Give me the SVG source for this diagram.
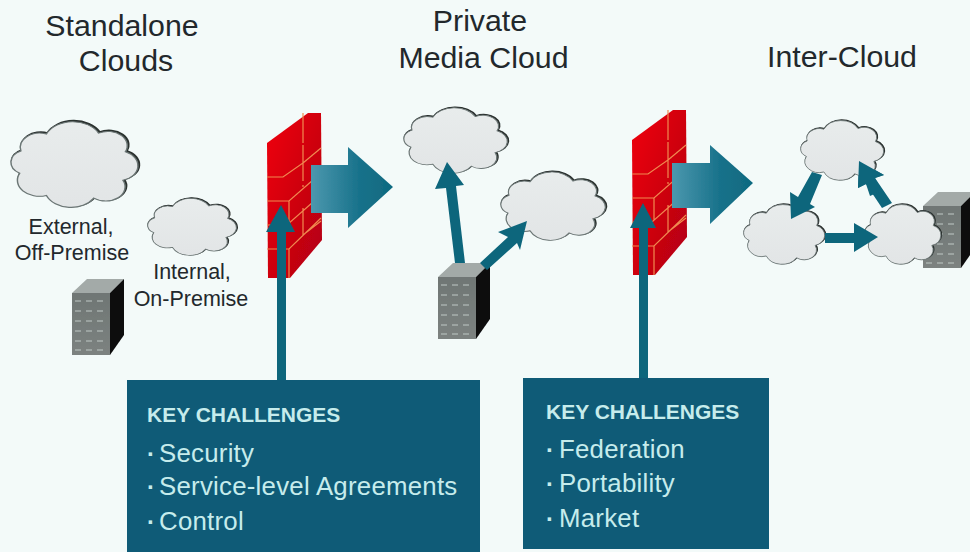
<svg xmlns="http://www.w3.org/2000/svg" width="970" height="552" viewBox="0 0 970 552">
<style>
.t{font-family:"Liberation Sans",Arial,sans-serif;fill:#22282c;text-anchor:middle}
.h{font-size:30.3px}
.s{font-size:21.5px}
.b{font-family:"Liberation Sans",Arial,sans-serif;fill:#c6ecec}
.k{font-size:21px;font-weight:bold}
.i{font-size:25.8px;letter-spacing:.25px}
.d{font-weight:bold;font-size:24px}
.box{fill:#0f5b77}
.cd{fill:#2a302f;stroke:#2a302f;stroke-width:2;vector-effect:non-scaling-stroke}
.cl{fill:url(#cg);stroke:#6c7776;stroke-width:1.2;vector-effect:non-scaling-stroke}
.ar{fill:#10667c}
.brick{fill:none;stroke:#f08a50;stroke-width:1.2}
.sl{stroke:#c0c9c6;stroke-width:1;stroke-dasharray:6 5}
.soft{filter:url(#soft)}
</style>
<defs>
<filter id="soft" x="-5%" y="-5%" width="110%" height="110%"><feGaussianBlur stdDeviation="0.6"/></filter>
<linearGradient id="cg" x1="0" y1="0" x2="0" y2="1"><stop offset="0" stop-color="#e8ecec"/><stop offset="1" stop-color="#e2e5e6"/></linearGradient>
<linearGradient id="wg" x1="0" y1="0" x2="1" y2="1"><stop offset="0" stop-color="#f0000a"/><stop offset="1" stop-color="#b00014"/></linearGradient>
<linearGradient id="ag" x1="0" y1="0" x2="1" y2="0"><stop offset="0" stop-color="#4c98ae"/><stop offset="0.6" stop-color="#17718a"/><stop offset="1" stop-color="#0f6a80"/></linearGradient>
<linearGradient id="fg" x1="0" y1="0" x2="0" y2="1"><stop offset="0" stop-color="#6f7674"/><stop offset="1" stop-color="#7c8280"/></linearGradient>
<path id="cp" d="M27 87 A18 18 0 0 1 5 62 A14 14 0 0 1 6 37 A16 16 0 0 1 27 18 A24 24 0 0 1 70 17 A16 16 0 0 1 92 38 A17 17 0 0 1 90 70 A16 16 0 0 1 66 90 A22 22 0 0 1 27 87 Z"/>
<g id="cloud">
<use href="#cp" class="cd" transform="translate(0.9,-1.1)"/>
<use href="#cp" class="cl"/>
</g>
<g id="srv">
<polygon points="0,14 15,0 52,0 38,14" fill="#a3aaa8"/>
<polygon points="38,14 52,0 52,56 38,76" fill="#0c0c0e"/>
<rect x="0" y="14" width="38" height="62" fill="url(#fg)"/>
<g class="sl"><path d="M3 22H35M3 32H35M3 42H35M3 52H35M3 62H35M3 71H35"/></g>
</g>
<g id="wall">
<polygon points="0,30 41,0 54,0 55,127 23,165 1,165" fill="url(#wg)"/>
<path class="brick" d="M0 64H16L36 50V32M36 50L54 35M36 68V50M0 88H22L54 60M36 74V72M22 88V110M0 112H20L54 82M36 95V122M0 136H22L54 105M22 136V165M36 122L54 108M36 0V30"/>
</g>
</defs>
<rect width="970" height="552" fill="#f3faf9"/>
<g id="title-standalone"><text class="t h" x="122" y="36">Standalone</text><text class="t h" x="126" y="71">Clouds</text></g>
<g id="title-private"><text class="t h" x="480" y="31">Private</text><text class="t h" x="483.5" y="68">Media Cloud</text></g>
<g id="title-inter"><text class="t h" x="842" y="67">Inter-Cloud</text></g>

<g id="cloud-external"><use class="soft" href="#cloud" transform="translate(13.6,118) scale(1.215,0.89)"/><text class="t s" x="71" y="234">External,</text><text class="t s" x="72" y="260">Off-Premise</text></g>
<g id="cloud-internal"><use class="soft" href="#cloud" transform="translate(149.5,196) scale(0.85,0.59)"/><text class="t s" x="192" y="279">Internal,</text><text class="t s" x="191" y="306">On-Premise</text></g>
<g id="server-1" class="soft"><use href="#srv" transform="translate(72,279)"/></g>
<g id="firewall-1" class="soft"><use href="#wall" transform="translate(267,113)"/></g>
<g id="firewall-2" class="soft"><use href="#wall" transform="translate(632,110)"/></g>
<g id="cloud-private-1" class="soft"><use href="#cloud" transform="translate(406,105) scale(0.99,0.68)"/></g>
<g id="cloud-private-2" class="soft"><use href="#cloud" transform="translate(503,169) scale(1,0.71)"/></g>
<g id="server-2" class="soft"><use href="#srv" transform="translate(438,263)"/></g>
<g id="server-3" class="soft"><use href="#srv" transform="translate(923,192)"/></g>

<g id="connectors" class="soft">
<polygon fill="url(#ag)" points="311,165 348,165 348,147 393,187 348,228 348,213 311,213"/>
<polygon fill="url(#ag)" points="672,163 710,163 710,145 753,183 710,224 710,208 672,208"/>
<polygon class="ar" points="277,381 277,232 266,232 281,205 295,232 286,232 286,381"/>
<polygon class="ar" points="639,379 639,228 630,228 643,203 656,228 648,228 648,379"/>
<polygon class="ar" points="455,263 446,188 435,189 447,162 464,185 456,186 465,263"/>
<polygon class="ar" points="480,263 508,237 498,232 527,221 520,250 517,243 487,270"/>
<polygon class="ar" points="882,208 892,203 875,178 884,175 859,161 858,188 866,184"/>
</g>
<g id="cloud-inter-1" class="soft"><use href="#cloud" transform="translate(802.4,118) scale(0.794,0.62)"/></g>
<g id="cloud-inter-2" class="soft"><use href="#cloud" transform="translate(745.3,202) scale(0.776,0.62)"/></g>
<g id="cloud-inter-3" class="soft"><use href="#cloud" transform="translate(866.2,202) scale(0.729,0.62)"/></g>
<g id="connectors-inter" class="soft">
<polygon class="ar" points="812,172 822,175 810,204 815,207 791,219 790,192 798,197"/>
<polygon class="ar" points="859,161 884,175 875,178 881,191 870,196 866,184 858,188"/>
<polygon class="ar" points="825,233 854,233 854,223 878,237 854,252 854,243 825,243"/>
</g>
<g id="box-security">
<rect class="box" x="127" y="380" width="353" height="172"/>
<text class="b k" x="147" y="422">KEY CHALLENGES</text>
<text class="b d" x="147" y="462">·</text><text class="b i" x="159" y="462">Security</text>
<text class="b d" x="147" y="495">·</text><text class="b i" x="159" y="495">Service-level Agreements</text>
<text class="b d" x="147" y="530">·</text><text class="b i" x="159" y="530">Control</text>
</g>
<g id="box-federation">
<rect class="box" x="523" y="378" width="246" height="171"/>
<text class="b k" x="546" y="419">KEY CHALLENGES</text>
<text class="b d" x="546" y="458">·</text><text class="b i" x="559" y="458">Federation</text>
<text class="b d" x="546" y="492">·</text><text class="b i" x="559" y="492">Portability</text>
<text class="b d" x="546" y="527">·</text><text class="b i" x="559" y="527">Market</text>
</g>
</svg>
